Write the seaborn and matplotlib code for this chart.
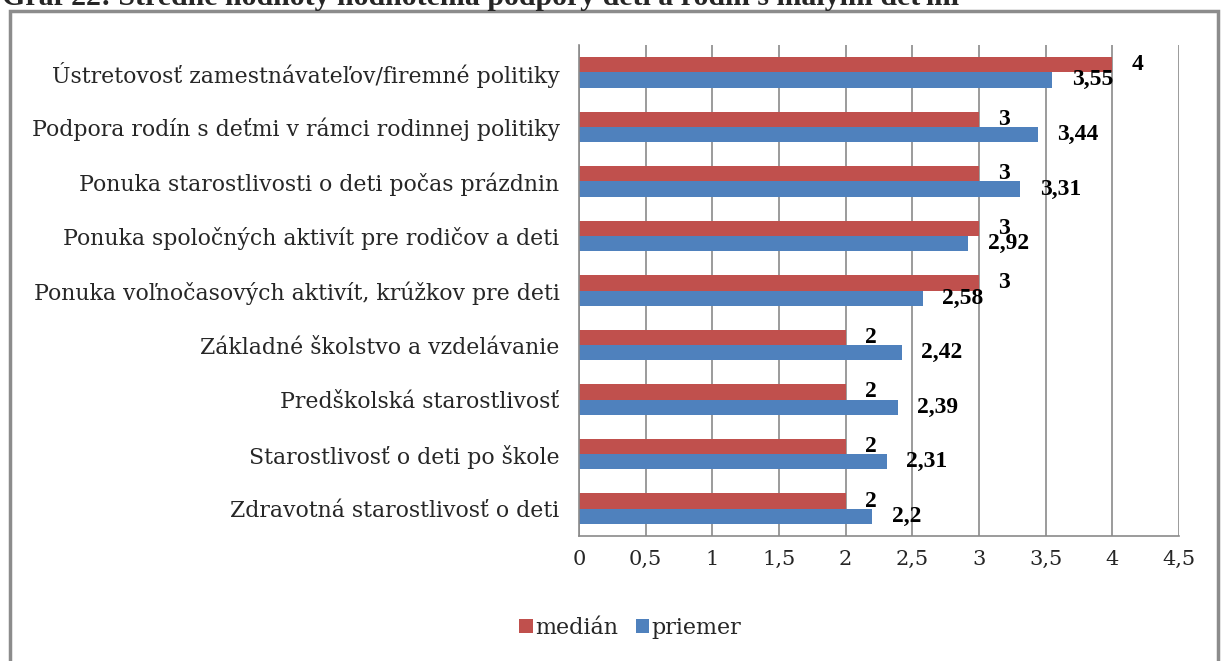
import matplotlib
matplotlib.use("Agg")
import matplotlib.pyplot as plt
from matplotlib.patches import Rectangle
import seaborn as sns
import pandas as pd

# ---- data ----
title = "Graf 22: Stredné hodnoty hodnotenia podpory detí a rodín s malými deťmi"
categories = [
    "Ústretovosť zamestnávateľov/firemné politiky",
    "Podpora rodín s deťmi v rámci rodinnej politiky",
    "Ponuka starostlivosti o deti počas prázdnin",
    "Ponuka spoločných aktivít pre rodičov a deti",
    "Ponuka voľnočasových aktivít, krúžkov pre deti",
    "Základné školstvo a vzdelávanie",
    "Predškolská starostlivosť",
    "Starostlivosť o deti po škole",
    "Zdravotná starostlivosť o deti",
]
median_vals = [4, 3, 3, 3, 3, 2, 2, 2, 2]
mean_vals = [3.55, 3.44, 3.31, 2.92, 2.58, 2.42, 2.39, 2.31, 2.2]
series_names = ["medián", "priemer"]
xticks = [0, 0.5, 1, 1.5, 2, 2.5, 3, 3.5, 4, 4.5]
xtick_labels = ["0", "0,5", "1", "1,5", "2", "2,5", "3", "3,5", "4", "4,5"]
colors = ["#C0504D", "#4F81BD"]


def fmt(v):
    s = f"{v:g}"
    return s.replace(".", ",")


df = pd.DataFrame({
    "kategória": categories * 2,
    "hodnota": median_vals + mean_vals,
    "séria": [series_names[0]] * len(categories) + [series_names[1]] * len(categories),
})

sns.set_style("white")
TIMES = ["Liberation Serif", "DejaVu Serif"]
WIDE = ["DejaVu Serif", "Liberation Serif"]
plt.rcParams["font.family"] = WIDE

W, H = 1221, 661
fig = plt.figure(figsize=(W / 100, H / 100), dpi=100)
ax = fig.add_axes([579 / W, 1 - 536 / H, 600 / W, 491 / H])

sns.barplot(data=df, y="kategória", x="hodnota", hue="séria",
            hue_order=series_names, order=categories, orient="h",
            palette=colors, saturation=1, width=0.56, linewidth=0,
            ax=ax)

ax.set_xlim(0, 4.5)
ax.set_ylim(len(categories) - 0.5, -0.5)
ax.set_xlabel("")
ax.set_ylabel("")

grid_c = "#8a8a8a"
ax.set_xticks(xticks)
ax.set_xticklabels(xtick_labels)
ax.xaxis.grid(True, color=grid_c, lw=1.2)
ax.yaxis.grid(False)
ax.set_axisbelow(True)
for s in ["top", "right"]:
    ax.spines[s].set_visible(False)
for s in ["left", "bottom"]:
    ax.spines[s].set_color(grid_c)
    ax.spines[s].set_linewidth(1.2)

ax.set_yticks([i - 0.5 for i in range(len(categories) + 1)], minor=True)
ax.tick_params(axis="y", which="major", length=0, pad=14, labelsize=15.8)
ax.tick_params(axis="y", which="minor", length=4, width=1.2, color=grid_c, direction="out")
ax.tick_params(axis="x", which="major", length=4, width=1.2, color=grid_c,
               direction="out", pad=6, labelsize=15)
for t in ax.get_yticklabels() + ax.get_xticklabels():
    t.set_fontweight("light")

# data labels
label_sets = [[fmt(v) for v in median_vals], [fmt(v) for v in mean_vals]]
for cont, labs in zip(ax.containers, label_sets):
    ax.bar_label(cont, labels=labs, padding=14, fontsize=17, fontweight="bold",
                 color="black", family=TIMES)

# legend below
handles, labels = ax.get_legend_handles_labels()
if ax.get_legend() is not None:
    ax.get_legend().remove()
fig.legend(handles, labels, loc="center", bbox_to_anchor=(630 / W, 1 - 628 / H),
           ncol=2, frameon=False, handlelength=0.6, handleheight=0.6,
           handletextpad=0.1, columnspacing=0.8, fontsize=16)

# chart frame
fig.patches.append(Rectangle((10 / W, -0.05), (1218 - 10) / W, 1.05 - 11.5 / H,
                             transform=fig.transFigure, fill=False,
                             ec="#8c8c8c", lw=2.5))

# (partially cut) title
fig.text(2 / W, 1 - 5 / H, title, fontsize=21.5, fontweight="bold",
         ha="left", va="baseline", family=TIMES)

fig.savefig("out.png", dpi=100)
